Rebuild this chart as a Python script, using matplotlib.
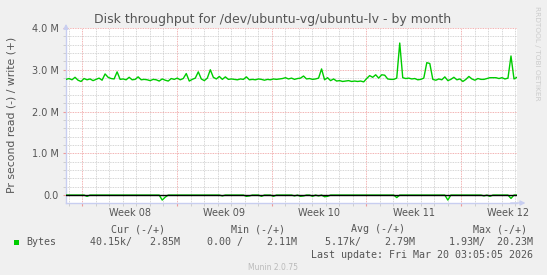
'''
munin style disk throughput chart, month view
'''

import numpy as np
import pandas as pd
import matplotlib
matplotlib.use('Agg')
import matplotlib.pyplot as plt
import matplotlib.dates as mdates
from matplotlib.ticker import MultipleLocator, FuncFormatter
from matplotlib.patches import Rectangle

# time range of the graph (800 hours up to last update)
t_end = pd.Timestamp('2026-03-20 03:05:05')
t_start = t_end - pd.Timedelta(hours=800)

# write (+) in M bytes per second
write_m = [2.77, 2.79, 2.76, 2.82, 2.75, 2.72, 2.79, 2.76, 2.78, 2.74,
           2.77, 2.80, 2.75, 2.90, 2.82, 2.79, 2.78, 2.95, 2.77, 2.78,
           2.76, 2.82, 2.76, 2.77, 2.83, 2.76, 2.77, 2.76, 2.74, 2.77,
           2.76, 2.73, 2.78, 2.75, 2.73, 2.79, 2.77, 2.80, 2.76, 2.79,
           2.91, 2.73, 2.77, 2.80, 2.95, 2.78, 2.74, 2.80, 3.00, 2.82,
           2.78, 2.84, 2.77, 2.83, 2.77, 2.78, 2.77, 2.76, 2.78, 2.77,
           2.83, 2.76, 2.77, 2.76, 2.78, 2.77, 2.75, 2.77, 2.76, 2.78,
           2.77, 2.78, 2.79, 2.81, 2.78, 2.80, 2.77, 2.79, 2.80, 2.85,
           2.78, 2.79, 2.77, 2.78, 2.80, 3.02, 2.76, 2.81, 2.74, 2.78,
           2.73, 2.74, 2.72, 2.73, 2.74, 2.72, 2.73, 2.72, 2.73, 2.71,
           2.79, 2.86, 2.82, 2.88, 2.80, 2.88, 2.87, 2.78, 2.77, 2.77,
           2.80, 3.64, 2.81, 2.79, 2.80, 2.78, 2.79, 2.76, 2.77, 2.80,
           3.17, 3.15, 2.77, 2.75, 2.78, 2.76, 2.83, 2.74, 2.77, 2.82,
           2.76, 2.78, 2.72, 2.77, 2.84, 2.78, 2.75, 2.79, 2.77, 2.77,
           2.79, 2.81, 2.81, 2.81, 2.79, 2.81, 2.78, 2.80, 3.33, 2.78,
           2.82]

# read (-) in M bytes per second, drawn below zero
read_m = [0, 0, 0, 0, 0, 0, 0, -0.03, 0, 0,
          0, 0, 0, 0, 0, 0, 0, 0, 0, 0,
          0, 0, 0, 0, 0, 0, 0, 0, 0, 0,
          0, 0, -0.12, -0.05, 0, 0, 0, 0, 0, 0,
          0, 0, 0, 0, 0, 0, 0, 0, 0, 0,
          0, 0, -0.02, 0, 0, 0, 0, 0, 0, 0,
          -0.03, -0.02, 0, 0, 0, -0.03, 0, 0, 0, -0.03,
          0, 0, 0, 0, 0, 0, -0.02, 0, -0.03, -0.02,
          0, 0, -0.03, 0, -0.02, 0, -0.04, -0.03, 0, 0,
          0, 0, 0, 0, 0, 0, 0, 0, 0, 0,
          0, 0, 0, 0, 0, 0, 0, 0, 0, 0,
          -0.06, 0, 0, 0, 0, 0, 0, 0, 0, 0,
          0, 0, 0, 0, 0, 0, 0, -0.12, 0, 0,
          0, 0, 0, 0, 0, 0, 0, 0, 0, -0.02,
          0, -0.03, 0, 0, 0, 0, 0, 0, -0.08, 0,
          0]

week_labels = ['Week 08', 'Week 09', 'Week 10', 'Week 11', 'Week 12']
week_starts = pd.to_datetime(['2026-02-16', '2026-02-23', '2026-03-02',
                              '2026-03-09', '2026-03-16'])

legend_heads = ['Cur (-/+)', 'Min (-/+)', 'Avg (-/+)', 'Max (-/+)']
legend_vals = ['40.15k/   2.85M', '0.00 /    2.11M', '5.17k/    2.79M', '1.93M/  20.23M']

W, H = 547, 275
GREEN = '#00CC00'
AXCOL = '#C8CEF0'
TXT = '#555555'

def fx(x):
    return x / W

def fy(y):
    return 1 - y / H

fig = plt.figure(figsize=(W / 100, H / 100), dpi=100, facecolor='#F0F0F0')
ax = fig.add_axes([fx(66), 72 / H, 451 / W, 175 / H])
ax.set_facecolor('white')

times = pd.date_range(t_start, t_end, periods=len(write_m))
ax.plot(times, write_m, color=GREEN, lw=1, zorder=3)
ax.plot(times, read_m, color=GREEN, lw=1, zorder=3)
ax.axhline(0, color='black', lw=1, zorder=4)

ax.set_xlim(t_start, t_end)
ax.set_ylim(-0.19, 4.0)

# grids
ax.yaxis.set_major_locator(MultipleLocator(1))
ax.yaxis.set_minor_locator(MultipleLocator(0.2))
ax.xaxis.set_major_locator(mdates.WeekdayLocator(byweekday=mdates.MO))
ax.xaxis.set_minor_locator(mdates.DayLocator())
ax.xaxis.set_major_formatter(plt.NullFormatter())
ax.yaxis.set_major_formatter(FuncFormatter(lambda v, p: '0.0' if abs(v) < 1e-9 else '%.1f M' % v))
ax.grid(which='minor', color='#C8C8C8', ls=(0, (1, 1)), lw=0.6, zorder=1)
ax.grid(which='major', color='#EE9999', ls=(0, (1, 1)), lw=0.6, zorder=2)
ax.tick_params(which='major', length=2, color='#EE9999', labelsize=7, labelcolor=TXT, pad=3)
ax.tick_params(which='minor', length=2, color='#C8C8C8')

for s in ['top', 'right']:
    ax.spines[s].set_visible(False)
for s in ['left', 'bottom']:
    ax.spines[s].set_color(AXCOL)
    ax.spines[s].set_linewidth(1)
ax.annotate('', xy=(1.025, 0), xytext=(0.98, 0), xycoords='axes fraction',
            arrowprops=dict(arrowstyle='-|>', color=AXCOL, lw=1, mutation_scale=7))
ax.annotate('', xy=(0, 1.04), xytext=(0, 0.98), xycoords='axes fraction',
            arrowprops=dict(arrowstyle='-|>', color=AXCOL, lw=1, mutation_scale=7))

# week labels at midweek
trans = ax.get_xaxis_transform()
for ws, lab in zip(week_starts, week_labels):
    ax.text(ws + pd.Timedelta(hours=84), -0.06, lab, transform=trans,
            ha='center', va='center', fontsize=7, color=TXT)

fig.text(fx(273), fy(19), 'Disk throughput for /dev/ubuntu-vg/ubuntu-lv - by month',
         ha='center', va='center', fontsize=9, color=TXT)
fig.text(fx(12), fy(115), 'Pr second read (-) / write (+)', rotation=90,
         ha='center', va='center', fontsize=7.8, color=TXT)
fig.text(fx(537), fy(53), 'RRDTOOL / TOBI OETIKER', rotation=270,
         ha='center', va='center', fontsize=5.3, color='#CCCCCC')

# legend block
mono = 'DejaVu Sans Mono'
head_right = [165, 285, 405, 527]
val_right = [180, 297, 415, 533]
for h, v, hr, vr in zip(legend_heads, legend_vals, head_right, val_right):
    fig.text(fx(hr), fy(229), h, ha='right', va='center', family=mono, fontsize=7.2, color=TXT)
    fig.text(fx(vr), fy(242), v, ha='right', va='center', family=mono, fontsize=7.2, color=TXT)
fig.patches.append(Rectangle((fx(14), fy(245)), 5 / W, 5 / H, transform=fig.transFigure,
                             facecolor=GREEN, edgecolor='none'))
fig.text(fx(26), fy(242), 'Bytes', ha='left', va='center', family=mono, fontsize=7.2, color=TXT)
fig.text(fx(533), fy(254.5), 'Last update: Fri Mar 20 03:05:05 2026', ha='right', va='center',
         family=mono, fontsize=7.2, color=TXT)
fig.text(fx(273), fy(267.5), 'Munin 2.0.75', ha='center', va='center', fontsize=5.5, color='#BBBBBB')

fig.savefig('out.png', dpi=100, facecolor=fig.get_facecolor())
